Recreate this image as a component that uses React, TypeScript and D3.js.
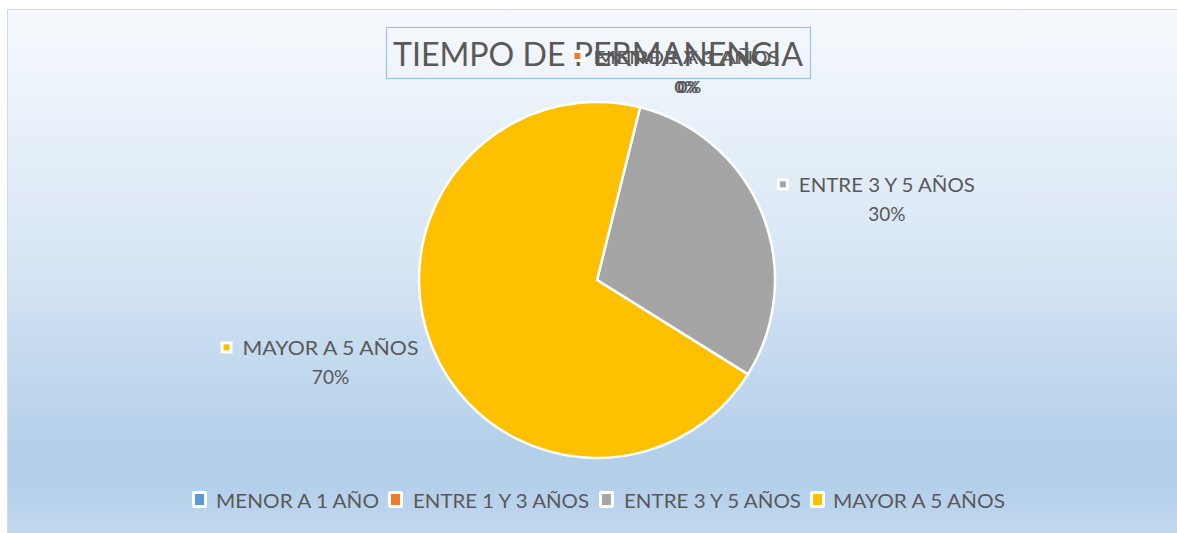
import React from "react";
import * as d3 from "d3";

const categories = ["MENOR A 1 AÑO", "ENTRE 1 Y 3 AÑOS", "ENTRE 3 Y 5 AÑOS", "MAYOR A 5 AÑOS"];
const values = [0, 0, 30, 70];
const colors = ["#5b9bd5", "#ed7d31", "#a5a5a5", "#ffc000"];
const title = "TIEMPO DE PERMANENCIA";

const W = 1177;
const H = 533;
const FONT = "Lato, 'Open Sans', sans-serif";
const TXT = "#595959";

export default function App() {
  const cx = 597;
  const cy = 280;
  const r = 178;
  const start = (14 * Math.PI) / 180;
  const pie = d3.pie<number>().sort(null).startAngle(start).endAngle(start + 2 * Math.PI);
  const arcs = pie(values);
  const arc = d3.arc<d3.PieArcDatum<number>>().innerRadius(0).outerRadius(r);
  const total = d3.sum(values);
  const fmt = (v: number) => `${Math.round((v / total) * 100)}%`;

  // label placement (annotation layout)
  const labels = arcs.map((a, i) => {
    const mid = (a.startAngle + a.endAngle) / 2;
    let x: number, y: number;
    if (a.value === 0) {
      const [px, py] = d3.pointRadial(mid, r + 22);
      x = px + 41 + (i === 0 ? -3 : 0);
      y = py - 13;
    } else if (Math.sin(mid) > 0) {
      const [px, py] = d3.pointRadial(mid, r + 112);
      x = px + 21;
      y = py + 30;
    } else {
      const [px, py] = d3.pointRadial(mid, r + 90);
      x = px - 18;
      y = py - 16;
    }
    return { x: x + cx, y: y + cy, i, value: a.value };
  });

  const legendSq = [192, 388, 599, 810];
  const legendTx = [216, 413, 624, 833];
  const legendW = [163, 176, 177, 172];

  return (
    <svg width={W} height={H} style={{ position: "absolute", left: 0, top: 0 }} xmlns="http://www.w3.org/2000/svg">
      <defs>
        <linearGradient id="bg" x1="0" y1="0" x2="0" y2="1">
          <stop offset="0" stopColor="#f6f9fd" />
          <stop offset="0.45" stopColor="#d9e7f5" />
          <stop offset="0.83" stopColor="#b3cfea" />
          <stop offset="0.9" stopColor="#b5d0eb" />
          <stop offset="1" stopColor="#c5daef" />
        </linearGradient>
      </defs>
      <rect x={0} y={0} width={W} height={H} fill="#ffffff" />
      <rect x={7.5} y={9.5} width={W} height={H} fill="url(#bg)" stroke="#d9d9d9" strokeWidth={1} />

      <g transform={`translate(${cx},${cy})`}>
        {arcs.map((a, i) => (
          <path key={i} d={arc(a) || ""} fill={colors[i]} stroke="#ffffff" strokeWidth={2.5} strokeLinejoin="round" />
        ))}
      </g>

      <text x={598} y={66} fontFamily={FONT} fontSize={33} fill={TXT} textAnchor="middle" textLength={410} lengthAdjust="spacingAndGlyphs">
        {title}
      </text>
      <rect x={386.5} y={27.5} width={424} height={51} fill="none" stroke="#9dc3e6" strokeWidth={1.2} />

      {labels.map((l) => {
        const name = categories[l.i];
        const nameW = l.value === 0 ? (l.i === 0 ? 176 : 186) : 176;
        return (
          <g key={l.i}>
            <rect x={l.x - nameW / 2 - 22} y={l.y - 23} width={12} height={12} fill="#ffffff" />
            <rect x={l.x - nameW / 2 - 19} y={l.y - 20} width={6} height={6} fill={colors[l.i]} />
            <text x={l.x} y={l.y - 9} fontFamily={FONT} fontSize={l.value === 0 ? 17 : 19} fill={TXT} textAnchor="middle" textLength={nameW} lengthAdjust="spacingAndGlyphs">
              {name}
            </text>
            <text x={l.x + (l.value === 0 ? 3 : 0)} y={l.y + 20} fontFamily={FONT} fontSize={l.value === 0 ? 17 : 19} fontWeight={l.value === 0 ? 700 : 400} fill={TXT} textAnchor="middle">
              {fmt(l.value)}
            </text>
          </g>
        );
      })}

      {categories.map((c, i) => (
        <g key={c}>
          <rect x={legendSq[i]} y={491} width={15} height={17} fill="#ffffff" rx={2} />
          <rect x={legendSq[i] + 3} y={494} width={9} height={11} fill={colors[i]} />
          <text x={legendTx[i]} y={508} fontFamily={FONT} fontSize={19} fill={TXT} textLength={legendW[i]} lengthAdjust="spacingAndGlyphs">
            {c}
          </text>
        </g>
      ))}
    </svg>
  );
}
